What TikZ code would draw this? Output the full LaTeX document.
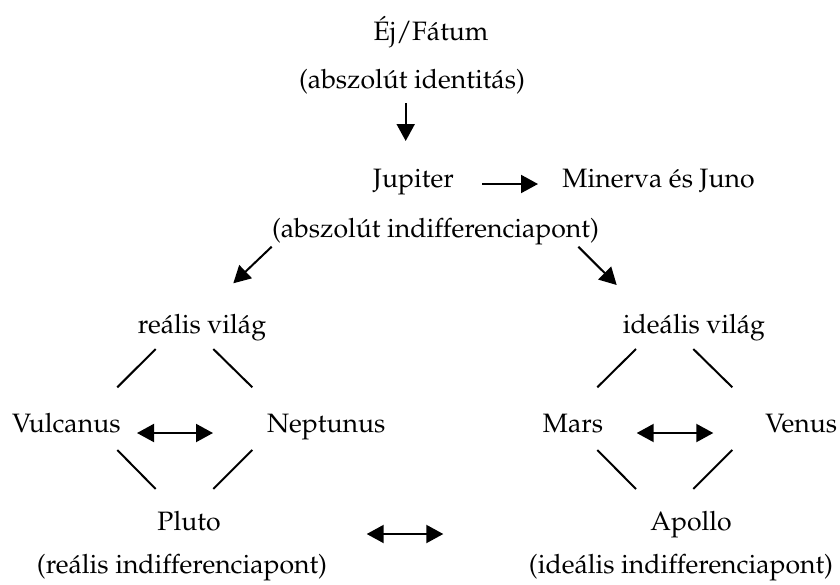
\documentclass[tikz,border=0pt]{standalone}
\usepackage[T1]{fontenc}
\renewcommand\rmdefault{ppl}
\usetikzlibrary{arrows.meta}
\begin{document}
\begin{tikzpicture}[x=0.5pt,y=-0.5pt,
  lbl/.style={anchor=base,inner sep=0pt,font=\fontsize{13.3}{16}\selectfont},
  lblw/.style={lbl,anchor=base west},
  arr/.style={line width=1pt,-{Triangle[length=8.5pt,width=9pt]}},
  darr/.style={line width=1pt,{Triangle[length=8.5pt,width=9pt]}-{Triangle[length=8.5pt,width=9pt]}},
  ln/.style={line width=1pt}]
\useasboundingbox (0,0) rectangle (840,584);
% texts
\node[lbl] (ej) at (431,40) {Éj/Fátum};
\node[lbl] (absid) at (412,88) {(abszolút identitás)};
\node[lbl] (jup) at (413.5,187) {Jupiter};
\node[lblw] (min) at (562,187) {Minerva és Juno};
\node[lbl] (absind) at (435.5,237) {(abszolút indifferenciapont)};
\node[lbl] (rv) at (202,333) {reális világ};
\node[lbl] (iv) at (694,333) {ideális világ};
\node[lblw] (vul) at (11.7,432) {Vulcanus};
\node[lblw] (nep) at (266.7,432) {Neptunus};
\node[lbl] (mars) at (573,432) {Mars};
\node[lblw] (ven) at (765,432) {Venus};
\node[lbl] (plu) at (189,530) {Pluto};
\node[lbl] (apo) at (691,530) {Apollo};
\node[lbl] (ri) at (182,573) {(reális indifferenciapont)};
\node[lbl] (ii) at (681,573) {(ideális indifferenciapont)};
% arrow end points
\coordinate (a1s) at (405.7,103); \coordinate (a1e) at (405.7,141);
\coordinate (a2s) at (482,184); \coordinate (a2e) at (538,184);
\coordinate (a3s) at (271.7,246.7); \coordinate (a3e) at (233.3,283.3);
\coordinate (a4s) at (578.3,246.7); \coordinate (a4e) at (616.7,285);
\coordinate (d1s) at (137,433); \coordinate (d1e) at (213,433);
\coordinate (d2s) at (636.7,433); \coordinate (d2e) at (713.3,433);
\coordinate (d3s) at (366.7,534); \coordinate (d3e) at (443.3,534);
\draw[arr] (a1s) -- (a1e);
\draw[arr] (a2s) -- (a2e);
\draw[arr] (a3s) -- (a3e);
\draw[arr] (a4s) -- (a4e);
\draw[darr] (d1s) -- (d1e);
\draw[darr] (d2s) -- (d2e);
\draw[darr] (d3s) -- (d3e);
% diamond lines, left
\coordinate (l1a) at (155.7,349); \coordinate (l1b) at (117.3,387.3);
\coordinate (l2a) at (213.3,349); \coordinate (l2b) at (252.3,387.3);
\coordinate (l3a) at (117.3,450); \coordinate (l3b) at (155.7,489);
\coordinate (l4a) at (252.3,450); \coordinate (l4b) at (213.3,489);
\draw[ln] (l1a) -- (l1b);
\draw[ln] (l2a) -- (l2b);
\draw[ln] (l3a) -- (l3b);
\draw[ln] (l4a) -- (l4b);
% diamond lines, right
\coordinate (r1a) at (636,349); \coordinate (r1b) at (597.3,387.3);
\coordinate (r2a) at (693.3,349); \coordinate (r2b) at (732.3,387.3);
\coordinate (r3a) at (597.3,450); \coordinate (r3b) at (636,489);
\coordinate (r4a) at (732.3,450); \coordinate (r4b) at (693.3,489);
\draw[ln] (r1a) -- (r1b);
\draw[ln] (r2a) -- (r2b);
\draw[ln] (r3a) -- (r3b);
\draw[ln] (r4a) -- (r4b);
\end{tikzpicture}
\end{document}
